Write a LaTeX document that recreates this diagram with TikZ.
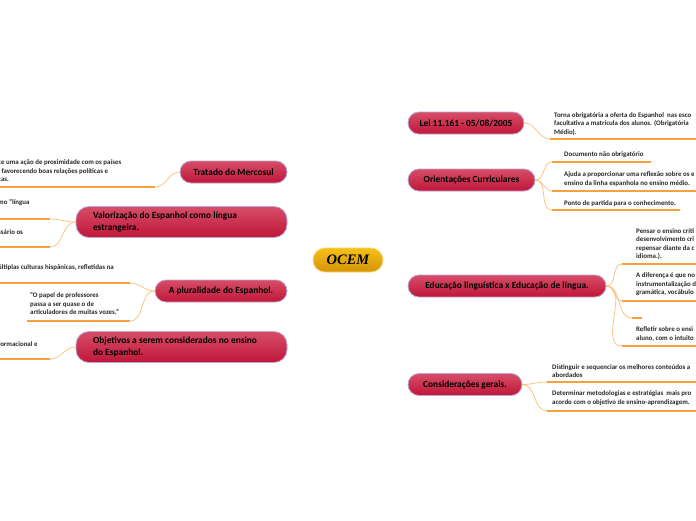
\documentclass[tikz,border=0pt]{standalone}
\usepackage{fontspec}
\setmainfont{Carlito}
\newfontfamily\hubfont{Liberation Serif}
\usetikzlibrary{backgrounds}

\definecolor{topictop}{RGB}{214,78,104}
\definecolor{topicbot}{RGB}{192,22,56}
\definecolor{topicline}{RGB}{190,165,210}
\definecolor{hubtop}{RGB}{246,192,24}
\definecolor{hubbot}{RGB}{212,148,8}
\definecolor{hubline}{RGB}{250,214,110}
\definecolor{branchorange}{RGB}{247,160,60}
\definecolor{twigorange}{RGB}{250,192,122}
\definecolor{leaftext}{RGB}{40,40,40}

\tikzset{
  hub/.style={draw=hubline, line width=0.8pt, top color=hubtop, bottom color=hubbot,
    rounded corners=12pt, minimum width=70pt, minimum height=24pt,
    font=\hubfont\bfseries\itshape\fontsize{14.5}{16}\selectfont},
  topic/.style={draw=topicline, line width=0.8pt, top color=topictop, bottom color=topicbot,
    rounded corners=11pt, minimum height=22pt, inner xsep=0pt,
    font=\bfseries\fontsize{9.4}{12}\selectfont},
  topictwo/.style={topic, minimum height=31pt, rounded corners=13pt,
    text width=177pt, align=flush left, inner xsep=17pt},
  leaf/.style={inner sep=0pt, align=flush left, anchor=west, text=leaftext,
    font=\bfseries\fontsize{6.9}{8.5}\selectfont},
  branch/.style={draw=branchorange, line width=0.9pt},
  twig/.style={draw=twigorange, line width=0.7pt},
  uline/.style={draw=branchorange, line width=1.6pt}
}

\begin{document}
\begin{tikzpicture}[x=1pt,y=1pt]
\fill[white] (0,0) rectangle (696,-520);
\useasboundingbox (0,0) rectangle (696,-520);

% centre and main topics
\node[hub] (ocem) at (348,-260) {OCEM};
\node[topic, minimum width=116pt] (lei) at (466,-123) {Lei 11.161 - 05/08/2005};
\node[topic, minimum width=127pt] (ori) at (471.5,-180) {Orientações Curriculares};
\node[topic, minimum width=198pt] (edu) at (507,-286) {Educação linguística x Educação de língua.};
\node[topic, minimum width=114pt] (con) at (465,-384.5) {Considerações gerais.};
\node[topic, minimum width=107pt] (tra) at (233.5,-172) {Tratado do Mercosul};
\node[topictwo] (val) at (181.5,-222) {Valorização do Espanhol como língua\\estrangeira.};
\node[topic, minimum width=132pt] (plu) at (221,-291) {A pluralidade do Espanhol.};
\node[topictwo] (obj) at (181.5,-347) {Objetivos a serem considerados no ensino\\do Espanhol.};

\begin{scope}[on background layer]
  \draw[branch] (ocem.center) to[out=78,in=180] (lei.west);
  \draw[branch] (ocem.center) to[out=68,in=180] (ori.west);
  \draw[branch] (ocem.center) to[out=-20,in=180] (edu.west);
  \draw[branch] (ocem.center) to[out=-70,in=180] (con.west);
  \draw[branch] (ocem.center) to[out=108,in=0] (tra.east);
  \draw[branch] (ocem.center) to[out=125,in=0] (val.east);
  \draw[branch] (ocem.center) to[out=-160,in=0] (plu.east);
  \draw[branch] (ocem.center) to[out=-115,in=0] (obj.east);
\end{scope}

% right leaves
\coordinate (lei1s) at (550,-139); \coordinate (lei1e) at (700,-139);
\node[leaf] (lei1) at (554,-124) {Torna obrigatória a oferta do Espanhol\ \ nas esco\\facultativa a matrícula dos alunos. (Obrigatória\\Médio).};
\draw[uline] (lei1s) -- (lei1e);
\draw[twig] (lei.east) to[out=0,in=180] (lei1s);

\coordinate (ori1s) at (552,-162); \coordinate (ori1e) at (651,-162);
\coordinate (ori2s) at (552,-191); \coordinate (ori2e) at (700,-191);
\coordinate (ori3s) at (552,-210); \coordinate (ori3e) at (680,-210);
\node[leaf] (ori1) at (564,-155) {Documento não obrigatório};
\node[leaf] (ori2) at (564,-179) {Ajuda a proporcionar uma reflexão sobre os e\\ensino da linha espanhola no ensino médio.};
\node[leaf] (ori3) at (564,-204) {Ponto de partida para o conhecimento.};
\foreach \n in {ori1,ori2,ori3} {
  \draw[uline] (\n s) -- (\n e);
  \draw[twig] (ori.east) to[out=0,in=180] (\n s);
}

\coordinate (edu1s) at (622,-264); \coordinate (edu1e) at (700,-264);
\coordinate (edu2s) at (622,-301); \coordinate (edu2e) at (700,-301);
\coordinate (edu3s) at (632,-318); \coordinate (edu3e) at (642,-318);
\coordinate (edu4s) at (622,-346); \coordinate (edu4e) at (700,-346);
\node[leaf] (edu1) at (636,-244) {Pensar o ensino críti\\desenvolvimento cri\\repensar diante da c\\idioma.).};
\node[leaf] (edu2) at (636,-284.5) {A diferença é que no\\instrumentalização d\\gramática, vocábulo};
\node[leaf] (edu4) at (636,-334) {Refletir sobre o ensi\\aluno, com o intuito};
\foreach \n in {edu1,edu2,edu3,edu4} {
  \draw[uline] (\n s) -- (\n e);
  \draw[twig] (edu.east) to[out=0,in=180] (\n s);
}

\coordinate (con1s) at (547,-382); \coordinate (con1e) at (700,-382);
\coordinate (con2s) at (547,-411); \coordinate (con2e) at (700,-411);
\node[leaf] (con1) at (552,-371) {Distinguir e sequenciar os melhores conteúdos a\\abordados};
\node[leaf] (con2) at (552,-398) {Determinar metodologias e estratégias\ \ mais pro\\acordo com o objetivo de ensino-aprendizagem.};
\foreach \n in {con1,con2} {
  \draw[uline] (\n s) -- (\n e);
  \draw[twig] (con.east) to[out=0,in=180] (\n s);
}

% left leaves
\coordinate (tra1s) at (-5,-187); \coordinate (tra1e) at (155,-187);
\node[leaf] (tra1) at (-2,-171) {ce uma ação de proximidade com os países\\, favorecendo boas relações políticas e\\cas.};
\draw[uline] (tra1s) -- (tra1e);
\draw[twig] (tra.west) to[out=180,in=0] (tra1e);

\coordinate (val1s) at (-5,-219); \coordinate (val1e) at (50,-219);
\coordinate (val2s) at (-5,-247); \coordinate (val2e) at (50,-247);
\node[leaf] (val1) at (-2,-203) {mo "língua};
\node[leaf] (val2) at (-2,-232) {ssário os};
\foreach \n in {val1,val2} {
  \draw[uline] (\n s) -- (\n e);
  \draw[twig] (val.west) to[out=180,in=0] (\n e);
}

\coordinate (plu1s) at (-5,-283); \coordinate (plu1e) at (130,-283);
\coordinate (plu2s) at (27,-321); \coordinate (plu2e) at (130,-321);
\node[leaf] (plu1) at (-2,-268) {últiplas culturas hispânicas, refletidas na};
\node[leaf] (plu2) at (30,-304) {"O papel de professores\\passa a ser quase o de\\articuladores de muitas vozes."};
\foreach \n in {plu1,plu2} {
  \draw[uline] (\n s) -- (\n e);
  \draw[twig] (plu.west) to[out=180,in=0] (\n e);
}

\coordinate (obj1s) at (-5,-359); \coordinate (obj1e) at (50,-359);
\node[leaf] (obj1) at (-2,-344) {formacional e};
\draw[uline] (obj1s) -- (obj1e);
\draw[twig] (obj.west) to[out=180,in=0] (obj1e);
\end{tikzpicture}
\end{document}
